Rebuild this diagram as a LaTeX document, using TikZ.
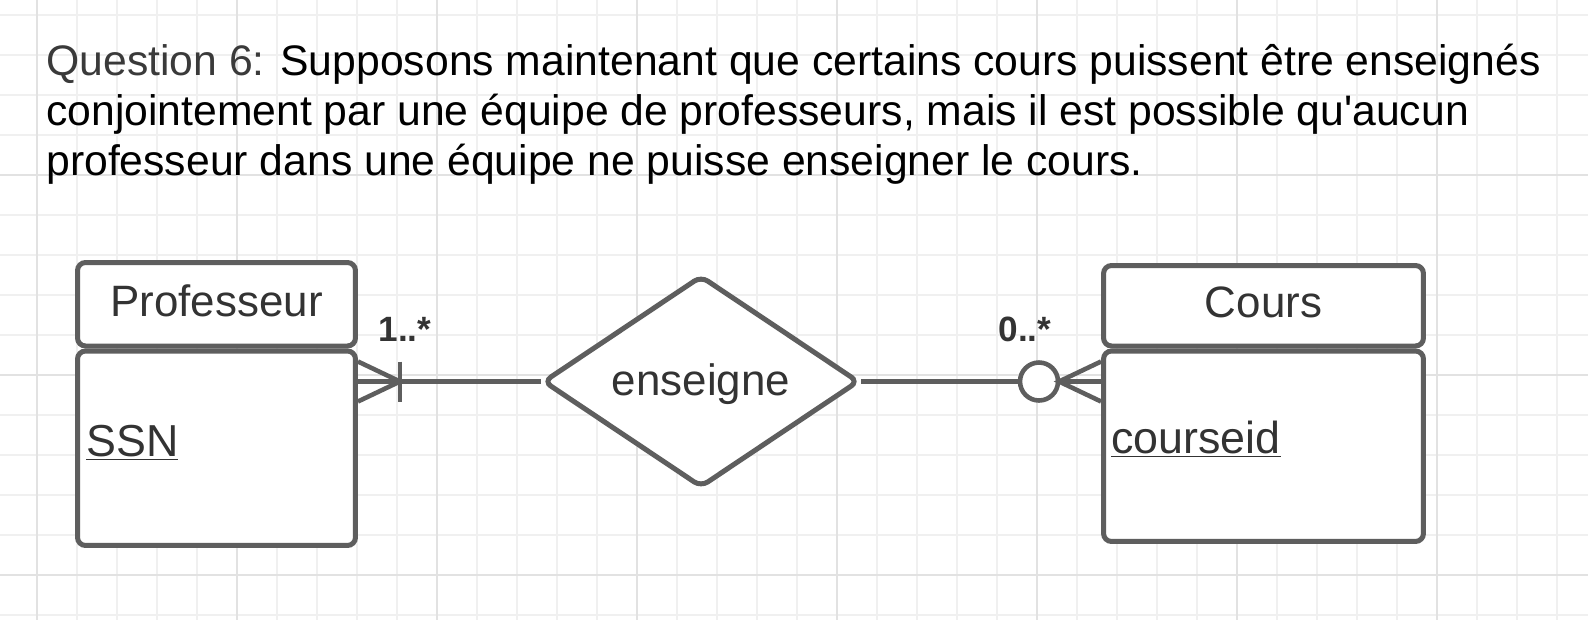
\documentclass[tikz,border=0pt]{standalone}
\usepackage{fontspec}
\setmainfont{Liberation Sans}
\usetikzlibrary{shapes,positioning}

\definecolor{edgegray}{HTML}{5E5E5E}
\definecolor{inkgray}{HTML}{333333}
\definecolor{qgray}{HTML}{3A3A3A}
\definecolor{gridminor}{HTML}{F0F0F0}
\definecolor{gridmajor}{HTML}{E2E2E2}

\begin{document}
\begin{tikzpicture}[x=0.02cm, y=-0.02cm,
    entity/.style={rectangle, draw=edgegray, line width=2.85pt, fill=white, rounded corners=0.16cm, inner sep=0pt, text=inkgray, text depth=0.16cm, font=\fontsize{25}{30}\selectfont},
    rel/.style={diamond, aspect=1.5, draw=edgegray, line width=2.85pt, fill=white, rounded corners=0.16cm, inner sep=0pt, minimum width=6.32cm, minimum height=4.24cm, text height=0.75cm, text=inkgray, font=\fontsize{25}{30}\selectfont},
    attr/.style={anchor=base west, inner sep=0pt, text=inkgray, font=\fontsize{25.5}{30}\selectfont},
    card/.style={anchor=base, inner sep=0pt, text=inkgray, font=\fontsize{20}{24}\selectfont\bfseries},
    title/.style={anchor=base west, inner sep=0pt, font=\fontsize{24.3}{29}\selectfont},
    conn/.style={draw=edgegray, line width=2.6pt}
]

% background and grid
\useasboundingbox (0,0) rectangle (1588,620);
\fill[white] (0,0) rectangle (1588,620);
\foreach \gx in {0,...,38} \draw[gridminor, line width=0.6pt] (37+40*\gx,0) -- (37+40*\gx,620);
\foreach \gy in {0,...,15} \draw[gridminor, line width=0.6pt] (0,15+40*\gy) -- (1588,15+40*\gy);
\foreach \gx in {0,...,7} \draw[gridmajor, line width=0.6pt] (37+200*\gx,0) -- (37+200*\gx,620);
\foreach \gy in {0,...,2} \draw[gridmajor, line width=0.6pt] (0,175+200*\gy) -- (1588,175+200*\gy);

% question
\node[title] (line1) at (46,75) {\textcolor{qgray}{Question 6:} Supposons maintenant que certains cours puissent être enseignés};
\node[title] (line2) at (46,125) {conjointement par une équipe de professeurs, mais il est possible qu\textquotesingle aucun};
\node[title] (line3) at (46,175) {professeur dans une équipe ne puisse enseigner le cours.};

% entities
\node[entity, minimum width=5.56cm, minimum height=1.67cm] (profhead) at (216.5,304.25) {Professeur};
\node[entity, minimum width=5.56cm, minimum height=3.89cm, below=0pt of profhead] (profbody) {};
\node[attr] (ssn) at (86,456) {\underline{SSN}};

\node[entity, minimum width=6.4cm, minimum height=1.61cm] (courshead) at (1263.5,305.75) {Cours};
\node[entity, minimum width=6.4cm, minimum height=3.81cm, below=0pt of courshead] (coursbody) {};
\node[attr] (courseid) at (1111,453) {\underline{courseid}};

% relationship
\node[rel] (enseigne) at (701,381.5) {enseigne};

% connectors
\coordinate (pfoot) at (profbody.east |- enseigne.west);
\coordinate (cfoot) at (coursbody.west |- enseigne.east);
\node[circle, draw=edgegray, line width=2.6pt, fill=white, minimum size=0.76cm, inner sep=0pt] (zero) at (1039,381.5) {};

\draw[conn] (pfoot) -- (enseigne.west);
\draw[conn] (pfoot) ++(0,-20) -- ++(42,20) -- ++(-42,20);
\draw[conn] (pfoot) ++(42,-20) -- ++(0,40);

\draw[conn] (enseigne.east) -- (zero.west);
\draw[conn] (zero.east) -- (cfoot);
\draw[conn] (cfoot) ++(0,-20) -- ++(-42,20) -- ++(42,20);

% cardinalities
\node[card] (cardprof) at (405,341) {1..*};
\node[card] (cardcours) at (1025,341) {0..*};

\end{tikzpicture}
\end{document}
